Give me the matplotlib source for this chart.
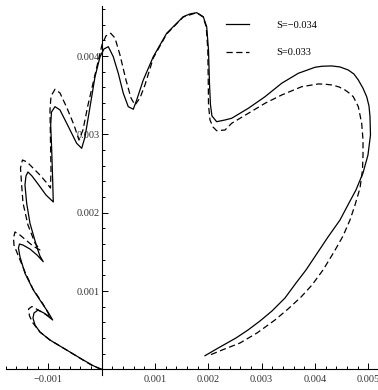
import numpy as np
import matplotlib
matplotlib.use("Agg")
import matplotlib.pyplot as plt
from matplotlib.ticker import FixedLocator

plt.rcParams['font.family'] = ['Liberation Serif', 'DejaVu Serif']

# curve points, in units of 1e-3
x_solid = [0.0, -0.156, -0.343, -0.654, -0.967, -1.155, -1.248, -1.286, -1.267, -1.192,
           -1.080, -0.986, -0.917, -1.005, -1.093, -1.280, -1.436, -1.530, -1.558, -1.539,
           -1.473, -1.342, -1.211, -1.093, -1.155, -1.216, -1.342, -1.404, -1.436, -1.417,
           -1.380, -1.305, -1.192, -1.042, -0.905, -0.917, -0.935, -0.954, -0.939, -0.873,
           -0.780, -0.654, -0.467, -0.373, -0.311, -0.217, -0.124, -0.030, 0.045, 0.126,
           0.219, 0.313, 0.407, 0.500, 0.594, 0.658, 0.782, 0.969, 1.220, 1.531,
           1.657, 1.783, 1.906, 1.970, 2.004, 2.022, 2.041, 2.069, 2.157, 2.313,
           2.439, 2.750, 3.063, 3.376, 3.687, 4.000, 4.131, 4.313, 4.469, 4.624,
           4.729, 4.812, 4.900, 4.969, 5.012, 5.031, 5.040, 4.993, 4.900, 4.768,
           4.637, 4.469, 4.244, 4.056, 3.831, 3.644, 3.438, 3.194, 2.969, 2.744,
           2.519, 2.219, 1.938]
y_solid = [0.0, 0.046, 0.119, 0.246, 0.374, 0.476, 0.566, 0.655, 0.719, 0.757,
           0.719, 0.668, 0.630, 0.732, 0.821, 1.013, 1.226, 1.438, 1.549, 1.600,
           1.587, 1.536, 1.460, 1.374, 1.447, 1.566, 1.865, 2.120, 2.354, 2.469,
           2.520, 2.469, 2.367, 2.226, 2.137, 2.418, 2.801, 3.120, 3.286, 3.354,
           3.312, 3.142, 2.886, 2.822, 2.967, 3.350, 3.733, 3.989, 4.091, 4.120,
           3.992, 3.780, 3.525, 3.354, 3.321, 3.439, 3.695, 3.992, 4.291, 4.503,
           4.538, 4.554, 4.503, 4.375, 4.078, 3.656, 3.375, 3.235, 3.162, 3.184,
           3.206, 3.333, 3.481, 3.653, 3.780, 3.857, 3.870, 3.874, 3.861, 3.822,
           3.771, 3.695, 3.589, 3.481, 3.363, 3.226, 2.992, 2.737, 2.507, 2.290,
           2.124, 1.907, 1.690, 1.498, 1.268, 1.102, 0.911, 0.745, 0.617, 0.502,
           0.400, 0.285, 0.174]

x_dash = [0.0, -0.161, -0.349, -0.654, -0.967, -1.155, -1.286, -1.351, -1.370, -1.305,
          -1.155, -1.023, -0.958, -1.023, -1.098, -1.286, -1.436, -1.567, -1.642, -1.651,
          -1.623, -1.530, -1.398, -1.286, -1.155, -1.248, -1.380, -1.473, -1.501, -1.520,
          -1.483, -1.398, -1.286, -1.155, -1.042, -0.958, -0.948, -0.958, -0.967, -0.948,
          -0.873, -0.780, -0.649, -0.517, -0.424, -0.349, -0.255, -0.124, 0.007, 0.082,
          0.171, 0.251, 0.345, 0.457, 0.551, 0.626, 0.720, 0.813, 0.969, 1.220,
          1.531, 1.783, 1.901, 1.962, 1.991, 2.000, 2.004, 2.032, 2.088, 2.157,
          2.313, 2.439, 2.750, 3.063, 3.376, 3.751, 4.062, 4.187, 4.313, 4.450,
          4.562, 4.647, 4.718, 4.812, 4.875, 4.900, 4.900, 4.890, 4.844, 4.750,
          4.656, 4.525, 4.356, 4.150, 3.944, 3.738, 3.494, 3.250, 2.913, 2.594,
          2.257, 2.032]
y_dash = [0.0, 0.042, 0.119, 0.246, 0.374, 0.476, 0.591, 0.681, 0.770, 0.802,
          0.745, 0.693, 0.662, 0.745, 0.834, 1.026, 1.243, 1.460, 1.587, 1.677,
          1.754, 1.715, 1.639, 1.575, 1.524, 1.613, 1.843, 2.124, 2.379, 2.571,
          2.673, 2.648, 2.571, 2.481, 2.392, 2.315, 2.545, 2.928, 3.312, 3.490,
          3.576, 3.529, 3.337, 3.120, 2.928, 3.056, 3.375, 3.759, 4.142, 4.257,
          4.291, 4.231, 4.014, 3.695, 3.465, 3.375, 3.465, 3.631, 3.976, 4.282,
          4.499, 4.554, 4.499, 4.372, 4.078, 3.656, 3.375, 3.184, 3.095, 3.047,
          3.056, 3.142, 3.269, 3.397, 3.503, 3.609, 3.644, 3.641, 3.631, 3.606,
          3.567, 3.525, 3.481, 3.354, 3.142, 2.928, 2.737, 2.545, 2.315, 2.098,
          1.907, 1.702, 1.498, 1.268, 1.077, 0.923, 0.770, 0.630, 0.464, 0.336,
          0.246, 0.183]

labels = ['S=\u22120.034', 'S=0.033']
x_ticks = [-0.001, 0.001, 0.002, 0.003, 0.004, 0.005]
x_ticklabels = ['\u22120.001', '0.001', '0.002', '0.003', '0.004', '0.005']
y_ticks = [0.001, 0.002, 0.003, 0.004]
y_ticklabels = ['0.001', '0.002', '0.003', '0.004']

fig = plt.figure(figsize=(3.78, 3.90), dpi=100)
ax = fig.add_axes([0, 0, 1, 1])
ax.patch.set_alpha(0)

ax.plot(np.array(x_solid) * 1e-3, np.array(y_solid) * 1e-3, color='black', lw=0.9,
        label=labels[0])
ax.plot(np.array(x_dash) * 1e-3, np.array(y_dash) * 1e-3, color='black', lw=0.9,
        dashes=(5, 2.8), label=labels[1])

ax.set_xlim(-0.001904, 0.005181)
ax.set_ylim(-0.000264, 0.004716)

for side in ['top', 'right']:
    ax.spines[side].set_visible(False)
ax.spines['left'].set_position(('data', 0))
ax.spines['bottom'].set_position(('data', 0))
ax.spines['left'].set_bounds(-0.00007, 0.00464)
ax.spines['bottom'].set_bounds(-0.00179, 0.00518)
for side in ['left', 'bottom']:
    ax.spines[side].set_linewidth(0.8)

# minor ticks every 0.0002, only along the drawn axis lines
x_minor = [t for t in np.round(np.arange(-0.0018, 0.00521, 0.0002), 5) if t != 0]
y_minor = [t for t in np.round(np.arange(0.0002, 0.00465, 0.0002), 5)]

ax.xaxis.set_major_locator(FixedLocator(x_ticks))
ax.set_xticklabels(x_ticklabels)
ax.xaxis.set_minor_locator(FixedLocator(x_minor))
ax.yaxis.set_major_locator(FixedLocator(y_ticks))
ax.set_yticklabels(y_ticklabels)
ax.yaxis.set_minor_locator(FixedLocator(y_minor))

ax.tick_params(which='both', direction='in', width=0.7, labelsize=7.5,
               labelcolor='#333333')
ax.tick_params(which='major', length=4.0)
ax.tick_params(which='minor', length=2.4)
ax.tick_params(axis='x', which='major', pad=4)
ax.tick_params(axis='y', which='major', pad=1.5)

ax.legend(loc='upper left', bbox_to_anchor=(0.597, 0.948), bbox_transform=fig.transFigure,
          frameon=False, fontsize=7.5, handlelength=2.24, handletextpad=2.66,
          labelspacing=1.78, borderpad=0, borderaxespad=0)

fig.savefig('out.png', dpi=100)
